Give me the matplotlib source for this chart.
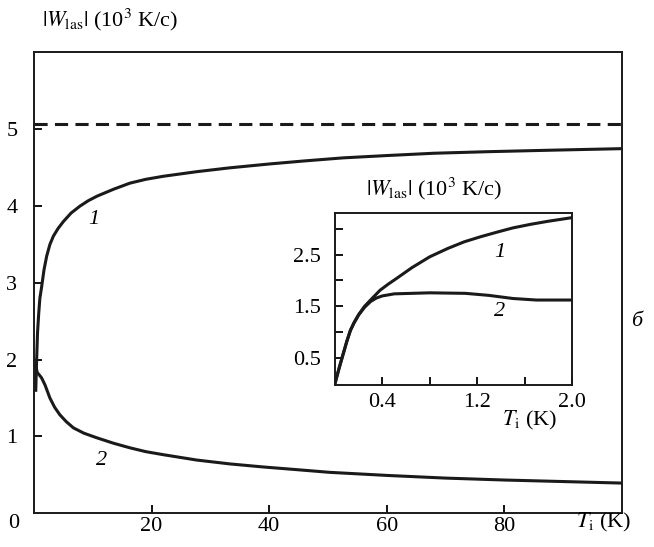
import matplotlib
matplotlib.use('Agg')
import matplotlib.pyplot as plt

# main panel: curve 1 and curve 2 vs T_i (K)
t1 = [0.3, 0.45, 0.6, 0.8, 1.0, 1.3, 1.7, 2.16, 2.7, 3.3, 4.1, 5.0, 6.3, 7.8, 9.2, 10.7, 13.5, 16.3,
      19, 22, 27.7, 33.3, 40, 46, 52.6, 60, 68, 77, 88, 100]
w1 = [1.6, 2.0, 2.35, 2.6, 2.8, 2.95, 3.17, 3.35, 3.5, 3.61, 3.71, 3.80, 3.91, 4.0, 4.07, 4.13, 4.22, 4.30,
      4.35, 4.39, 4.45, 4.50, 4.55, 4.59, 4.63, 4.66, 4.69, 4.71, 4.73, 4.75]
t2 = [0.3, 0.56, 0.9, 1.3, 1.87, 2.7, 3.5, 4.4, 5.5, 6.7, 8.5, 10.7, 13.5, 16.3, 19, 22, 27.7, 33.3,
      39, 44.7, 50.3, 60, 70, 80, 90, 100]
w2 = [1.92, 1.83, 1.80, 1.76, 1.67, 1.50, 1.38, 1.28, 1.19, 1.11, 1.04, 0.98, 0.91, 0.85, 0.80, 0.76, 0.69, 0.64,
      0.60, 0.565, 0.53, 0.49, 0.455, 0.43, 0.41, 0.39]
w_limit = 5.07

# inset: low temperature part
ti1 = [0.0, 0.035, 0.07, 0.1, 0.13, 0.16, 0.2, 0.25, 0.3, 0.38, 0.45, 0.52, 0.65, 0.8, 0.95, 1.09,
       1.23, 1.37, 1.5, 1.65, 1.8, 2.0]
wi1 = [0.0, 0.3, 0.58, 0.82, 1.03, 1.18, 1.34, 1.5, 1.62, 1.81, 1.93, 2.04, 2.25, 2.46, 2.62, 2.75,
       2.85, 2.94, 3.02, 3.09, 3.15, 3.22]
ti2 = [0.0, 0.035, 0.07, 0.1, 0.13, 0.16, 0.2, 0.25, 0.3, 0.35, 0.4, 0.5, 0.8, 1.1, 1.3, 1.5, 1.7, 2.0]
wi2 = [0.0, 0.3, 0.58, 0.82, 1.03, 1.17, 1.33, 1.48, 1.59, 1.66, 1.70, 1.74, 1.76, 1.75, 1.71, 1.65, 1.62, 1.62]

main_xticks = [20, 40, 60, 80]
main_yticks = [1, 2, 3, 4, 5]
inset_xticks = [0.4, 0.8, 1.2, 1.6, 2.0]
inset_xlabels = ['0.4', '', '1.2', '', '2.0']
inset_yticks = [0.5, 1.0, 1.5, 2.0, 2.5, 3.0]
inset_ylabels = ['0.5', '', '1.5', '', '2.5', '']

plt.rcParams['font.family'] = ['Liberation Serif', 'DejaVu Serif']
plt.rcParams['mathtext.fontset'] = 'stix'
plt.rcParams['font.size'] = 16

W, H = 654, 547
fig = plt.figure(figsize=(W / 100, H / 100), dpi=100)
ink = '#1a1a1a'

ax = fig.add_axes([34 / W, 1 - 513 / H, (622 - 34) / W, (513 - 52) / H])
ax.plot(t1, w1, color=ink, lw=2.2)
ax.plot(t2, w2, color=ink, lw=2.2)
ax.axhline(w_limit, color=ink, lw=2.2, dashes=(4.3, 2.4))
ax.set_xlim(0, 100)
ax.set_ylim(0, 6.01)
ax.set_xticks(main_xticks)
ax.set_yticks(main_yticks)
ax.tick_params(direction='in', length=6, width=1.3, pad=3)
ax.tick_params(axis='y', pad=12)
for s in ax.spines.values():
    s.set_linewidth(1.4)
    s.set_color(ink)
ax.text(10.2, 3.82, '1', fontstyle='italic', ha='center', va='center')
ax.text(11.5, 0.69, '2', fontstyle='italic', ha='center', va='center')

fig.text(14 / W, 1 - 523 / H, '0', ha='center', va='center')
fig.text(604 / W, 1 - 522 / H, r'$T_{\rm i}$ (K)', ha='center', va='center')
fig.text(42 / W, 1 - 20 / H, r'$|W_{\rm las}|$ (10$^3$ K/c)', ha='left', va='center')
fig.text(637 / W, 1 - 322 / H, 'б', fontstyle='italic', ha='center', va='center')

# inset
axi = fig.add_axes([335 / W, 1 - 385 / H, (572 - 335) / W, (385 - 213) / H])
axi.plot(ti1, wi1, color=ink, lw=2.2)
axi.plot(ti2, wi2, color=ink, lw=2.2)
axi.set_xlim(0, 2.0)
axi.set_ylim(-0.03, 3.31)
axi.set_xticks(inset_xticks)
axi.set_xticklabels(inset_xlabels)
axi.set_yticks(inset_yticks)
axi.set_yticklabels(inset_ylabels)
axi.tick_params(direction='in', length=6, width=1.3)
axi.tick_params(axis='x', pad=6)
axi.tick_params(axis='y', pad=10)
for s in axi.spines.values():
    s.set_linewidth(1.4)
    s.set_color(ink)
axi.text(1.39, 2.54, '1', fontstyle='italic', ha='center', va='center')
axi.text(1.39, 1.40, '2', fontstyle='italic', ha='center', va='center')

fig.text(530 / W, 1 - 420 / H, r'$T_{\rm i}$ (K)', ha='center', va='center')
fig.text(366 / W, 1 - 189 / H, r'$|W_{\rm las}|$ (10$^3$ K/c)', ha='left', va='center')

fig.savefig('out.png', dpi=100)
